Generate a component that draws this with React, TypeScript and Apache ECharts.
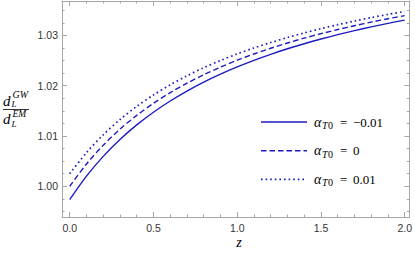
import React, { useEffect, useRef } from "react";
import * as echarts from "echarts";

// redshift samples
const Z = [0, 0.1, 0.2, 0.3, 0.4, 0.5, 0.6, 0.7, 0.8, 0.9, 1.0, 1.1, 1.2, 1.3, 1.4, 1.5, 1.6, 1.7, 1.8, 1.9, 2.0];
// alpha_T0 = -0.01
const SOLID = [0.99735, 1.00202, 1.00595, 1.00931, 1.01221, 1.01473, 1.01696, 1.01894, 1.02071, 1.0223, 1.02374, 1.02505, 1.02624, 1.02734, 1.02835, 1.02928, 1.03015, 1.03095, 1.0317, 1.0324, 1.03305];
// alpha_T0 = 0
const DASHED = [1.0, 1.00443, 1.00816, 1.01135, 1.0141, 1.0165, 1.01862, 1.0205, 1.02218, 1.02369, 1.02507, 1.02631, 1.02744, 1.02849, 1.02945, 1.03034, 1.03117, 1.03193, 1.03265, 1.03331, 1.03393];
// alpha_T0 = 0.01
const DOTTED = [1.0025, 1.0067, 1.01024, 1.01327, 1.01589, 1.01817, 1.02018, 1.02197, 1.02357, 1.02501, 1.02632, 1.0275, 1.02858, 1.02958, 1.03049, 1.03134, 1.03213, 1.03286, 1.03354, 1.03417, 1.03476];

const LEGEND_VALUES = ["\u22120.01", "0", "0.01"];

const X_MAJOR = [0, 0.5, 1.0, 1.5, 2.0];
const X_MINOR = [0.1, 0.2, 0.3, 0.4, 0.6, 0.7, 0.8, 0.9, 1.1, 1.2, 1.3, 1.4, 1.6, 1.7, 1.8, 1.9];
const Y_MAJOR = [1.0, 1.01, 1.02, 1.03];
const Y_MINOR = [0.995, 0.9975, 1.0025, 1.005, 1.0075, 1.0125, 1.015, 1.0175, 1.0225, 1.025, 1.0275, 1.0325, 1.035];

const X_MIN = -0.0461;
const X_MAX = 2.0278;
const Y_MIN = 0.9939;
const Y_MAX = 1.03684;

const BLUE = "#1c1cc4";
const FRAME = "#a6a6a6";
const LABEL = "#333333";
const SERIF = "Liberation Serif";
const SANS = "Liberation Sans";
const DASH = [5.5, 3];
const DOT = [1.6, 3.0];

function txt(x: number, y: number, text: string, size: number, italic: boolean, align = "left") {
  return {
    type: "text",
    x,
    y,
    style: {
      text,
      fontFamily: SERIF,
      fontSize: size,
      fontStyle: italic ? "italic" : "normal",
      fill: "#000",
      align,
      verticalAlign: "middle",
    },
  };
}

export default function App() {
  const ref = useRef<HTMLDivElement>(null);
  useEffect(() => {
    if (!ref.current) return;
    const chart = echarts.init(ref.current, undefined, { renderer: "svg" });

    const mkX = (position: string, values: number[], len: number, labels: boolean, line: boolean) => ({
      type: "value",
      gridIndex: 0,
      position,
      min: X_MIN,
      max: X_MAX,
      axisLine: { show: line, onZero: false, lineStyle: { color: FRAME, width: 1 } },
      axisTick: { show: true, inside: true, length: len, customValues: values, lineStyle: { color: FRAME, width: 1 } },
      axisLabel: labels
        ? { show: true, customValues: values, formatter: (v: number) => v.toFixed(1), margin: 5, fontSize: 10.5, color: LABEL, fontFamily: SANS }
        : { show: false },
      splitLine: { show: false },
    });
    const mkY = (position: string, values: number[], len: number, labels: boolean, line: boolean) => ({
      type: "value",
      gridIndex: 0,
      position,
      min: Y_MIN,
      max: Y_MAX,
      axisLine: { show: line, onZero: false, lineStyle: { color: FRAME, width: 1 } },
      axisTick: { show: true, inside: true, length: len, customValues: values, lineStyle: { color: FRAME, width: 1 } },
      axisLabel: labels
        ? { show: true, customValues: values, formatter: (v: number) => v.toFixed(2), margin: 4, fontSize: 10.5, color: LABEL, fontFamily: SANS }
        : { show: false },
      splitLine: { show: false },
    });

    const mkSeries = (name: string, vals: number[], dash: any) => ({
      name,
      type: "line",
      xAxisIndex: 0,
      yAxisIndex: 0,
      data: Z.map((z, i) => [z, vals[i]]),
      showSymbol: false,
      smooth: 0.3,
      lineStyle: { color: BLUE, width: dash === DOT ? 1.7 : 1.4, type: dash },
      silent: true,
    });

    const legendY = [122, 150.7, 179.3];
    const legendDash: any[] = [null, DASH, DOT];
    const legendGraphics: any[] = [];
    legendY.forEach((y, i) => {
      legendGraphics.push({
        type: "line",
        shape: { x1: 261, y1: y, x2: 307, y2: y },
        style: { stroke: BLUE, lineWidth: i === 2 ? 1.7 : 1.4, lineDash: legendDash[i] },
      });
      legendGraphics.push(txt(314, y, "\u03b1", 14, true));
      legendGraphics.push(txt(322, y + 3.5, "T", 10, true));
      legendGraphics.push(txt(328, y + 3.5, "0", 10, false));
      legendGraphics.push(txt(340, y, "=", 13, false));
      legendGraphics.push(txt(353, y, LEGEND_VALUES[i], 13, false));
    });

    const option: any = {
      animation: false,
      grid: [{ left: 62, top: 1, width: 351, height: 216, containLabel: false }],
      xAxis: [
        mkX("bottom", X_MAJOR, 5, true, true),
        mkX("bottom", X_MINOR, 2.5, false, false),
        mkX("top", X_MAJOR, 5, false, true),
        mkX("top", X_MINOR, 2.5, false, false),
      ],
      yAxis: [
        mkY("left", Y_MAJOR, 5, true, true),
        mkY("left", Y_MINOR, 2.5, false, false),
        mkY("right", Y_MAJOR, 5, false, true),
        mkY("right", Y_MINOR, 2.5, false, false),
      ],
      series: [
        mkSeries("alpha_T0 = -0.01", SOLID, "solid"),
        mkSeries("alpha_T0 = 0", DASHED, DASH),
        mkSeries("alpha_T0 = 0.01", DOTTED, DOT),
      ],
      graphic: [
        txt(239, 242, "z", 14, true, "center"),
        // y-axis title: d_L^GW / d_L^EM
        txt(3, 100.5, "d", 15, true),
        txt(12.5, 94.5, "GW", 10, true),
        txt(11.5, 104, "L", 9, true),
        { type: "line", shape: { x1: 3, y1: 109.5, x2: 29, y2: 109.5 }, style: { stroke: "#000", lineWidth: 0.8 } },
        txt(3, 118.5, "d", 15, true),
        txt(12.5, 114, "EM", 9.5, true),
        txt(11.5, 123.5, "L", 9, true),
        ...legendGraphics,
      ],
    };
    chart.setOption(option);
    return () => chart.dispose();
  }, []);
  return (
    <div
      ref={ref}
      style={{ position: "fixed", left: 0, top: 0, width: 415, height: 260, background: "#fff" }}
    />
  );
}
